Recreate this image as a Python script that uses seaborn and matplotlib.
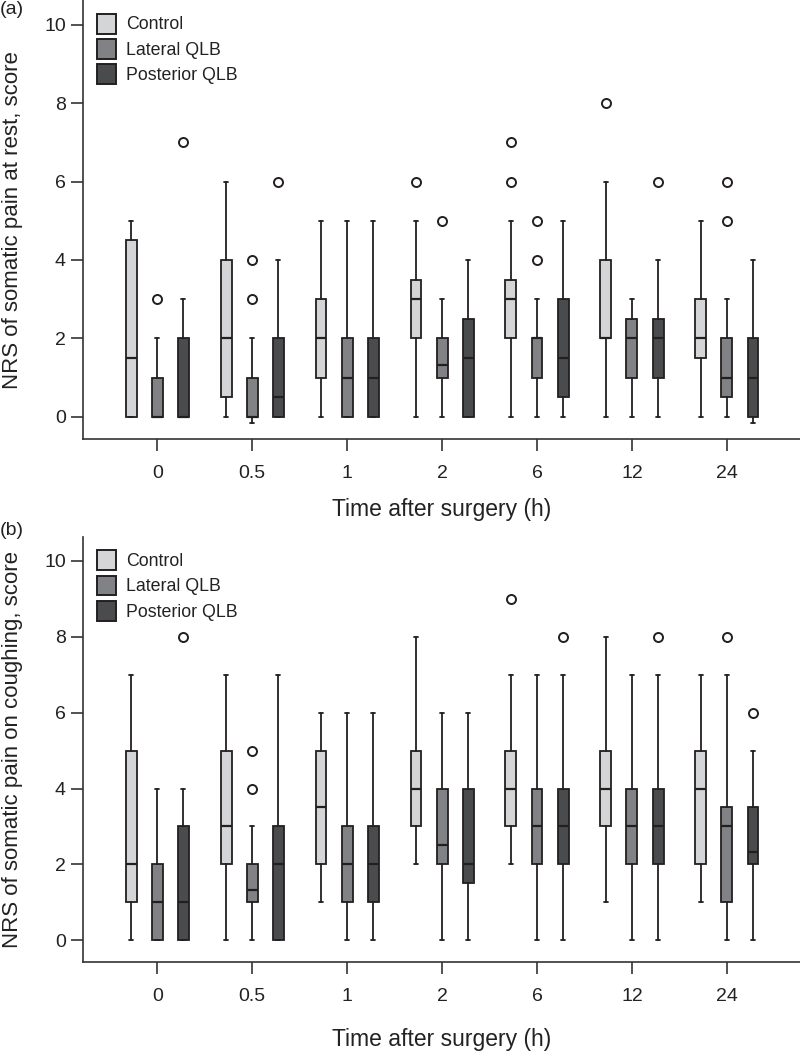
import matplotlib
matplotlib.use("Agg")
import matplotlib.pyplot as plt
from matplotlib.patches import Patch
import seaborn as sns

# ---------------- data ----------------
times = ["0", "0.5", "1", "2", "6", "12", "24"]
groups = ["Control", "Lateral QLB", "Posterior QLB"]

# Panel (a): NRS at rest
a_control_low = [0, 0, 0, 0, 0, 0, 0]
a_control_q1 = [0, 0.5, 1, 2, 2, 2, 1.5]
a_control_med = [1.5, 2, 2, 3, 3, 2, 2]
a_control_q3 = [4.5, 4, 3, 3.5, 3.5, 4, 3]
a_control_high = [5, 6, 5, 5, 5, 6, 5]
a_control_fliers = [[], [], [], [6], [6, 7], [8], []]

a_lateral_low = [0, -0.15, 0, 0, 0, 0, 0]
a_lateral_q1 = [0, 0, 0, 1, 1, 1, 0.5]
a_lateral_med = [0, 0, 1, 1.33, 2, 2, 1]
a_lateral_q3 = [1, 1, 2, 2, 2, 2.5, 2]
a_lateral_high = [2, 2, 5, 3, 3, 3, 3]
a_lateral_fliers = [[3], [3, 4], [], [5], [4, 5], [], [5, 6]]

a_post_low = [0, 0, 0, 0, 0, 0, -0.15]
a_post_q1 = [0, 0, 0, 0, 0.5, 1, 0]
a_post_med = [0, 0.5, 1, 1.5, 1.5, 2, 1]
a_post_q3 = [2, 2, 2, 2.5, 3, 2.5, 2]
a_post_high = [3, 4, 5, 4, 5, 4, 4]
a_post_fliers = [[7], [6], [], [], [], [6], []]

# Panel (b): NRS on coughing
b_control_low = [0, 0, 1, 2, 2, 1, 1]
b_control_q1 = [1, 2, 2, 3, 3, 3, 2]
b_control_med = [2, 3, 3.5, 4, 4, 4, 4]
b_control_q3 = [5, 5, 5, 5, 5, 5, 5]
b_control_high = [7, 7, 6, 8, 7, 8, 7]
b_control_fliers = [[], [], [], [], [9], [], []]

b_lateral_low = [0, 0, 0, 0, 0, 0, 0]
b_lateral_q1 = [0, 1, 1, 2, 2, 2, 1]
b_lateral_med = [1, 1.33, 2, 2.5, 3, 3, 3]
b_lateral_q3 = [2, 2, 3, 4, 4, 4, 3.5]
b_lateral_high = [4, 3, 6, 6, 7, 7, 7]
b_lateral_fliers = [[], [4, 5], [], [], [], [], [8]]

b_post_low = [0, 0, 0, 0, 0, 0, 0]
b_post_q1 = [0, 0, 1, 1.5, 2, 2, 2]
b_post_med = [1, 2, 2, 2, 3, 3, 2.33]
b_post_q3 = [3, 3, 3, 4, 4, 4, 3.5]
b_post_high = [4, 7, 6, 6, 7, 7, 5]
b_post_fliers = [[8], [], [], [], [8], [8], [6]]

colors = ["#d4d5d7", "#808285", "#4a4b4d"]
edge = "#231f20"

# ---------------- style ----------------
sns.set_theme(style="ticks")
plt.rcParams["font.family"] = ["Liberation Sans", "DejaVu Sans"]

fig = plt.figure(figsize=(8, 10.6), dpi=100)
ax_a = fig.add_axes([0.104, 0.5858, 0.896, 0.414])
ax_b = fig.add_axes([0.104, 0.0925, 0.896, 0.401])

offsets = [-0.275, 0.0, 0.275]


def draw(ax, series, ylabel, xpad):
    for g, (low, q1, med, q3, high, fl) in enumerate(series):
        stats = []
        for i in range(len(times)):
            stats.append(dict(whislo=low[i], q1=q1[i], med=med[i], q3=q3[i],
                              whishi=high[i], fliers=fl[i]))
        pos = [i + offsets[g] for i in range(len(times))]
        ax.bxp(stats, positions=pos, widths=0.115, patch_artist=True,
               showfliers=True, capwidths=0.045,
               boxprops=dict(facecolor=colors[g], edgecolor=edge, linewidth=1.3),
               medianprops=dict(color=edge, linewidth=1.6),
               whiskerprops=dict(color=edge, linewidth=1.3),
               capprops=dict(color=edge, linewidth=1.3),
               flierprops=dict(marker="o", markerfacecolor="white",
                               markeredgecolor=edge, markersize=6.5,
                               markeredgewidth=1.4))
    ax.set_xlim(-0.78, 6.77)
    ax.set_ylim(-0.57, 10.63)
    ax.set_xticks(range(len(times)))
    ax.set_xticklabels(times)
    ax.set_yticks([0, 2, 4, 6, 8, 10])
    ax.tick_params(axis="both", labelsize=14, length=8.5, width=1.2,
                   color="#333333", labelcolor="#222222")
    ax.tick_params(axis="x", pad=10)
    ax.tick_params(axis="y", pad=4)
    ax.set_xlabel("Time after surgery (h)", fontsize=16.5, labelpad=xpad,
                  color="#222222")
    ax.set_ylabel(ylabel, fontsize=16, labelpad=15, color="#222222")
    sns.despine(ax=ax)
    for s in ["left", "bottom"]:
        ax.spines[s].set_color("#333333")
        ax.spines[s].set_linewidth(1.2)
    handles = [Patch(facecolor=colors[k], edgecolor=edge, linewidth=1.4,
                     label=groups[k]) for k in range(3)]
    ax.legend(handles=handles, loc="upper left", frameon=False,
              fontsize=12.8, handlelength=1.1, handleheight=1.35,
              handletextpad=0.55, labelspacing=0.3,
              bbox_to_anchor=(0.0, 1.0), borderaxespad=0.35,
              labelcolor="#222222")


draw(ax_a, [
    (a_control_low, a_control_q1, a_control_med, a_control_q3, a_control_high, a_control_fliers),
    (a_lateral_low, a_lateral_q1, a_lateral_med, a_lateral_q3, a_lateral_high, a_lateral_fliers),
    (a_post_low, a_post_q1, a_post_med, a_post_q3, a_post_high, a_post_fliers),
], "NRS of somatic pain at rest, score", 12)

draw(ax_b, [
    (b_control_low, b_control_q1, b_control_med, b_control_q3, b_control_high, b_control_fliers),
    (b_lateral_low, b_lateral_q1, b_lateral_med, b_lateral_q3, b_lateral_high, b_lateral_fliers),
    (b_post_low, b_post_q1, b_post_med, b_post_q3, b_post_high, b_post_fliers),
], "NRS of somatic pain on coughing, score", 17)

fig.text(0.0, 0.999, "(a)", fontsize=14, va="top", ha="left", color="#222222")
fig.text(0.0, 0.508, "(b)", fontsize=14, va="top", ha="left", color="#222222")

fig.savefig("out.png", dpi=100)
